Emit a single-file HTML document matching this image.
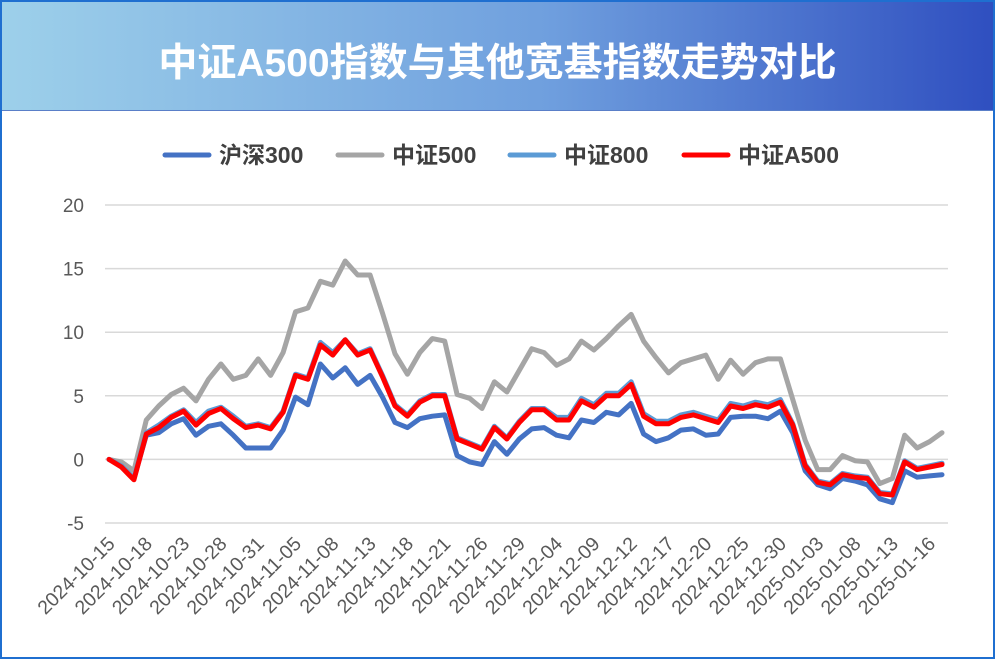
<!DOCTYPE html>
<html><head><meta charset="utf-8"><style>
body{margin:0;background:#fff}
#wrap{position:relative;width:995px;height:659px;box-sizing:border-box;border:2px solid #1f6fd0;overflow:hidden;font-family:"Liberation Sans","Noto Sans CJK SC",sans-serif}
#hdr{position:absolute;left:0;top:0;width:991px;height:108px;background:linear-gradient(90deg,#9dd0ea,#6f9fde 55%,#2f4fc0);border-bottom:1px solid #5a7fc8}
#title{position:absolute;left:0;right:0;top:30px;text-align:center;color:#fff;font-size:39px;font-weight:bold;font-family:"Liberation Sans","Noto Sans CJK SC",sans-serif}
svg{position:absolute;left:0;top:0}
</style></head><body>
<div id="wrap">
<div id="hdr"><div id="title">中证A500指数与其他宽基指数走势对比</div></div>
<svg id="chart" width="995" height="659"></svg>
</div>
<script>
const categories=["2024-10-15","2024-10-16","2024-10-17","2024-10-18","2024-10-21","2024-10-22","2024-10-23","2024-10-24","2024-10-25","2024-10-28","2024-10-29","2024-10-30","2024-10-31","2024-11-01","2024-11-04","2024-11-05","2024-11-06","2024-11-07","2024-11-08","2024-11-11","2024-11-12","2024-11-13","2024-11-14","2024-11-15","2024-11-18","2024-11-19","2024-11-20","2024-11-21","2024-11-22","2024-11-25","2024-11-26","2024-11-27","2024-11-28","2024-11-29","2024-12-02","2024-12-03","2024-12-04","2024-12-05","2024-12-06","2024-12-09","2024-12-10","2024-12-11","2024-12-12","2024-12-13","2024-12-16","2024-12-17","2024-12-18","2024-12-19","2024-12-20","2024-12-23","2024-12-24","2024-12-25","2024-12-26","2024-12-27","2024-12-30","2024-12-31","2025-01-02","2025-01-03","2025-01-06","2025-01-07","2025-01-08","2025-01-09","2025-01-10","2025-01-13","2025-01-14","2025-01-15","2025-01-16","2025-01-17"];
const hs300=[0,-0.5,-1.5,1.9,2.1,2.8,3.2,1.9,2.6,2.8,1.9,0.9,0.9,0.9,2.3,4.9,4.3,7.5,6.4,7.2,5.9,6.6,4.9,2.9,2.5,3.2,3.4,3.5,0.3,-0.2,-0.4,1.4,0.4,1.6,2.4,2.5,1.9,1.7,3.1,2.9,3.7,3.5,4.4,2.0,1.4,1.7,2.3,2.4,1.9,2.0,3.3,3.4,3.4,3.2,3.8,2.1,-0.9,-2.0,-2.3,-1.5,-1.7,-2.0,-3.1,-3.4,-0.9,-1.4,-1.3,-1.2];
const zz500=[0,-0.2,-0.9,3.1,4.2,5.1,5.6,4.6,6.3,7.5,6.3,6.6,7.9,6.6,8.4,11.6,11.9,14.0,13.7,15.6,14.5,14.5,11.5,8.3,6.7,8.4,9.5,9.3,5.1,4.8,4.0,6.1,5.3,7.0,8.7,8.4,7.4,7.9,9.3,8.6,9.5,10.5,11.4,9.3,8.0,6.8,7.6,7.9,8.2,6.3,7.8,6.7,7.6,7.9,7.9,4.7,1.5,-0.8,-0.8,0.3,-0.1,-0.2,-1.9,-1.5,1.9,0.9,1.4,2.1];
const zz800=[0,-0.5,-1.5,2.1,2.7,3.4,3.9,2.9,3.8,4.1,3.4,2.6,2.8,2.5,3.8,6.7,6.4,9.2,8.4,9.4,8.3,8.7,6.6,4.3,3.5,4.6,5.1,5.1,1.7,1.3,0.9,2.6,1.7,3.0,4.0,4.0,3.3,3.3,4.8,4.3,5.2,5.2,6.1,3.6,3.0,3.0,3.5,3.7,3.4,3.1,4.4,4.2,4.5,4.3,4.7,2.8,-0.4,-1.7,-1.9,-1.1,-1.3,-1.4,-2.6,-2.7,-0.1,-0.7,-0.5,-0.3];
const a500=[0,-0.6,-1.6,2.0,2.5,3.3,3.8,2.7,3.6,4.0,3.2,2.5,2.7,2.4,3.7,6.6,6.3,9.0,8.2,9.4,8.2,8.6,6.5,4.2,3.4,4.5,5.0,5.0,1.6,1.2,0.8,2.5,1.6,2.9,3.9,3.9,3.1,3.1,4.6,4.1,5.0,5.0,5.9,3.4,2.8,2.8,3.3,3.5,3.2,2.9,4.2,4.0,4.3,4.1,4.5,2.7,-0.5,-1.8,-2.0,-1.2,-1.4,-1.5,-2.7,-2.8,-0.2,-0.8,-0.6,-0.4];
const seriesNames=["沪深300","中证500","中证800","中证A500"];
const yTicks=[20,15,10,5,0,-5];

const svg=document.getElementById('chart');
const NS='http://www.w3.org/2000/svg';
const x0=107,x1=940,yTop=203,yBot=521,vMax=20,vMin=-5;
const X=i=>x0+(x1-x0)*i/(categories.length-1);
const Y=v=>yTop+(vMax-v)*(yBot-yTop)/(vMax-vMin);
function mk(t,a){const e=document.createElementNS(NS,t);for(const k in a)e.setAttribute(k,a[k]);svg.appendChild(e);return e;}
yTicks.forEach(t=>{
 const g=mk('line',{x1:103,x2:946,y1:Y(t),y2:Y(t),stroke:'#d9d9d9','stroke-width':1.5});
 
 
 const l=mk('text',{x:82,y:Y(t)+7,'text-anchor':'end','font-size':19,fill:'#595959','font-family':'Liberation Sans,sans-serif'});
 l.textContent=t;
 
 
});
categories.forEach((c,i)=>{
 if(i%3)return;
 const tx=X(i)+7,ty=543;
 const l=mk('text',{x:tx,y:ty,'text-anchor':'end','font-size':19.5,fill:'#595959','font-family':'Liberation Sans,sans-serif',transform:`rotate(-45 ${tx} ${ty})`});
 l.textContent=c;
 
 
});
const colors=['#4472c4','#a5a5a5','#5b9bd5','#ff0000'];
const data=[hs300,zz500,zz800,a500];
data.forEach((d,s)=>{
 const p=mk('polyline',{points:d.map((v,i)=>X(i).toFixed(1)+','+Y(v).toFixed(1)).join(' '),fill:'none',stroke:colors[s],'stroke-width':5,'stroke-linejoin':'round','stroke-linecap':'round'});
 
 
});
const lx=[163,336,508,682];
seriesNames.forEach((n,s)=>{
 const ln=mk('line',{x1:lx[s],x2:lx[s]+44,y1:153,y2:153,stroke:colors[s],'stroke-width':5,'stroke-linecap':'round'});
 
 
 const t=mk('text',{x:lx[s]+54,y:161,'font-size':23,'font-weight':'bold',fill:'#404040','font-family':'Liberation Sans,Noto Sans CJK SC,sans-serif'});
 t.textContent=n;
 
 
});
</script>
</body></html>
